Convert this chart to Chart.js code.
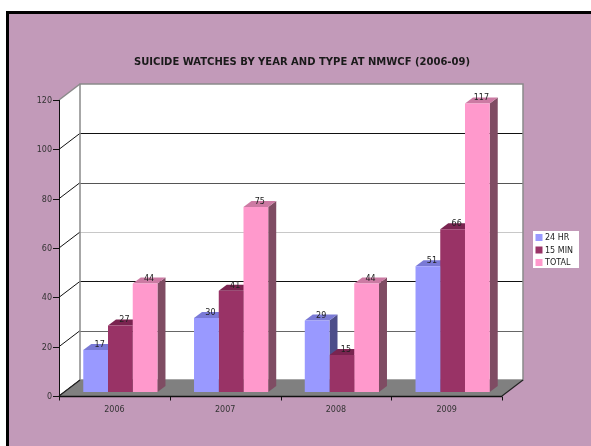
<!DOCTYPE html>
<html>
<head>
<meta charset="utf-8">
<title>Suicide watches by year and type</title>
<script src="https://cdn.jsdelivr.net/npm/chart.js@4.4.0/dist/chart.umd.min.js"></script>
<style>
  html, body { margin: 0; padding: 0; background: #fff; }
  body { position: relative; width: 591px; height: 446px; overflow: hidden; }
  .frame {
    position: absolute; left: 6px; top: 11px; width: 620px; height: 470px;
    background: #C29AB9; border-left: 3px solid #000; border-top: 3px solid #000;
  }
  #chart { position: absolute; left: 0; top: 0; }
</style>
</head>
<body>
<div class="frame"></div>
<canvas id="chart" width="591" height="446"></canvas>
<script>
const chartTitle = "SUICIDE WATCHES BY YEAR AND TYPE AT NMWCF (2006-09)";
const years = ["2006", "2007", "2008", "2009"];
const seriesNames = ["24 HR", "15 MIN", "TOTAL"];
const hr24 = [17, 30, 29, 51];
const min15 = [27, 41, 15, 66];
const total = [44, 75, 44, 117];
const yTicks = [0, 20, 40, 60, 80, 100, 120];

// front / top / side shades for each series
const faces = [
  { front: "#9999FF", top: "#7A7AD6", side: "#4D4E8A" },
  { front: "#993366", top: "#7A2450", side: "#5E1F40" },
  { front: "#FF99CC", top: "#CC7AA3", side: "#7F4C63" },
];
const gridColors = { 20: "#666", 40: "#111", 60: "#c8c8c8", 80: "#555", 100: "#111" };

const FONT = "DejaVu Sans, Verdana, sans-serif";
// the bars stand on a plane between the front axis and the back wall
const front = { dx: -6, dy: 4 };
const back = { dx: 15, dy: -12 };
const barDepth = { dx: 8, dy: -6 };

function poly(ctx, pts, fill, stroke) {
  ctx.beginPath();
  pts.forEach(([px, py], i) => (i ? ctx.lineTo(px, py) : ctx.moveTo(px, py)));
  ctx.closePath();
  if (fill) { ctx.fillStyle = fill; ctx.fill(); }
  if (stroke) { ctx.strokeStyle = stroke; ctx.stroke(); }
}

function line(ctx, x1, y1, x2, y2, color, w) {
  ctx.beginPath();
  ctx.moveTo(x1, y1);
  ctx.lineTo(x2, y2);
  ctx.strokeStyle = color;
  ctx.lineWidth = w || 1;
  ctx.stroke();
}

const box3d = {
  id: "box3d",
  beforeDatasetsDraw(chart) {
    const { ctx, chartArea: a, scales } = chart;
    const x = scales.x, y = scales.y;
    const yMin = yTicks[0], yMax = yTicks[yTicks.length - 1];
    const y0 = y.getPixelForValue(yMin), y1 = y.getPixelForValue(yMax);
    const L = a.left, R = a.right;
    ctx.save();

    // walls
    poly(ctx, [[L + front.dx, y0 + front.dy], [L + front.dx, y1 + front.dy],
      [L + back.dx, y1 + back.dy], [L + back.dx, y0 + back.dy]], "#fff");
    poly(ctx, [[L + back.dx, y1 + back.dy], [R + back.dx, y1 + back.dy],
      [R + back.dx, y0 + back.dy], [L + back.dx, y0 + back.dy]], "#fff");

    // gridlines on back wall + left wall diagonals
    yTicks.forEach((v) => {
      const py = y.getPixelForValue(v);
      if (v > yMin && v < yMax) {
        const gy = Math.round(py + back.dy) + 0.5;
        line(ctx, L + back.dx, gy, R + back.dx, gy, gridColors[v] || "#333");
      }
      if (v < yMax) line(ctx, L + front.dx, py + front.dy, L + back.dx, py + back.dy, "#111");
      // tick mark + label on front axis
      const ty = Math.round(py + front.dy) + 0.5;
      line(ctx, L + front.dx - 6, ty, L + front.dx, ty, "#111");
      ctx.fillStyle = "#333";
      ctx.font = "8px " + FONT;
      ctx.textAlign = "right";
      ctx.textBaseline = "middle";
      ctx.fillText(String(v), L + front.dx - 7, ty);
    });

    // back wall border
    ctx.lineWidth = 1.5;
    poly(ctx, [[L + back.dx, y1 + back.dy], [R + back.dx, y1 + back.dy],
      [R + back.dx, y0 + back.dy], [L + back.dx, y0 + back.dy]], null, "#8a8a8a");
    line(ctx, L + front.dx, y1 + front.dy, L + back.dx, y1 + back.dy, "#8a8a8a", 1.5);

    // floor
    poly(ctx, [[L + front.dx, y0 + front.dy], [R + front.dx, y0 + front.dy],
      [R + back.dx, y0 + back.dy], [L + back.dx, y0 + back.dy]], "#808080");
    line(ctx, R + front.dx, y0 + front.dy, R + back.dx, y0 + back.dy, "#222", 1.2);
    line(ctx, L + front.dx, y0 + front.dy, L + back.dx, y0 + back.dy, "#222", 1.2);

    // front axes
    const ax = Math.round(L + front.dx) + 0.5;
    line(ctx, ax, y1 + front.dy, ax, y0 + front.dy, "#111");
    const ay = Math.round(y0 + front.dy) + 0.5;
    line(ctx, L + front.dx, ay, R + front.dx, ay, "#111", 1.3);
    const step = (R - L) / years.length;
    for (let i = 0; i <= years.length; i++) {
      const tx = Math.round(L + i * step + front.dx) + 0.5;
      line(ctx, tx, ay, tx, ay + 4, "#111");
    }
    ctx.fillStyle = "#333";
    ctx.font = "8px " + FONT;
    ctx.textAlign = "center";
    ctx.textBaseline = "middle";
    years.forEach((yr, i) => ctx.fillText(yr, x.getPixelForValue(i) + front.dx, ay + 13));

    // top and side faces of the bars, left to right
    chart.data.datasets.forEach((ds, di) => {
      chart.getDatasetMeta(di).data.forEach((bar) => {
        const l = bar.x - bar.width / 2, r = bar.x + bar.width / 2;
        const t = bar.y, b = bar.base;
        poly(ctx, [[r, t], [r + barDepth.dx, t + barDepth.dy],
          [r + barDepth.dx, b + barDepth.dy], [r, b]], faces[di].side);
        poly(ctx, [[l, t], [r, t], [r + barDepth.dx, t + barDepth.dy],
          [l + barDepth.dx, t + barDepth.dy]], faces[di].top);
      });
    });
    ctx.restore();
  },
  afterDatasetsDraw(chart) {
    const { ctx } = chart;
    ctx.save();
    ctx.font = "8px " + FONT;
    ctx.fillStyle = "#222";
    ctx.textAlign = "center";
    ctx.textBaseline = "middle";
    chart.data.datasets.forEach((ds, di) => {
      chart.getDatasetMeta(di).data.forEach((bar, i) => {
        ctx.fillText(String(ds.data[i]), bar.x + 4, bar.y - 5);
      });
    });

    // title
    ctx.font = "bold 10px " + FONT;
    ctx.fillStyle = "#1a1a1a";
    ctx.fillText(chartTitle, 302, 62);

    // legend
    const lx = 533, ly = 231;
    ctx.fillStyle = "#fff";
    ctx.fillRect(lx, ly, 46, 37);
    ctx.font = "8px " + FONT;
    ctx.textAlign = "left";
    chart.data.datasets.forEach((ds, di) => {
      const cy = ly + 6.5 + di * 12.5;
      ctx.fillStyle = ds.backgroundColor;
      ctx.fillRect(lx + 2.5, cy - 3.5, 7, 7);
      ctx.fillStyle = "#222";
      ctx.fillText(ds.label, lx + 12, cy + 0.5);
    });
    ctx.restore();
  },
};

new Chart(document.getElementById("chart"), {
  type: "bar",
  data: {
    labels: years,
    datasets: [
      { label: seriesNames[0], data: hr24, backgroundColor: faces[0].front },
      { label: seriesNames[1], data: min15, backgroundColor: faces[1].front },
      { label: seriesNames[2], data: total, backgroundColor: faces[2].front },
    ],
  },
  options: {
    responsive: false,
    animation: false,
    layout: { padding: { left: 65, right: 83, top: 96, bottom: 54 } },
    datasets: { bar: { categoryPercentage: 0.67, barPercentage: 1.0, borderWidth: 0 } },
    scales: {
      x: { display: false },
      y: { display: false, min: 0, max: 120 },
    },
    plugins: {
      legend: { display: false },
      title: { display: false },
      tooltip: { enabled: false },
    },
  },
  plugins: [box3d],
});
</script>
</body>
</html>
